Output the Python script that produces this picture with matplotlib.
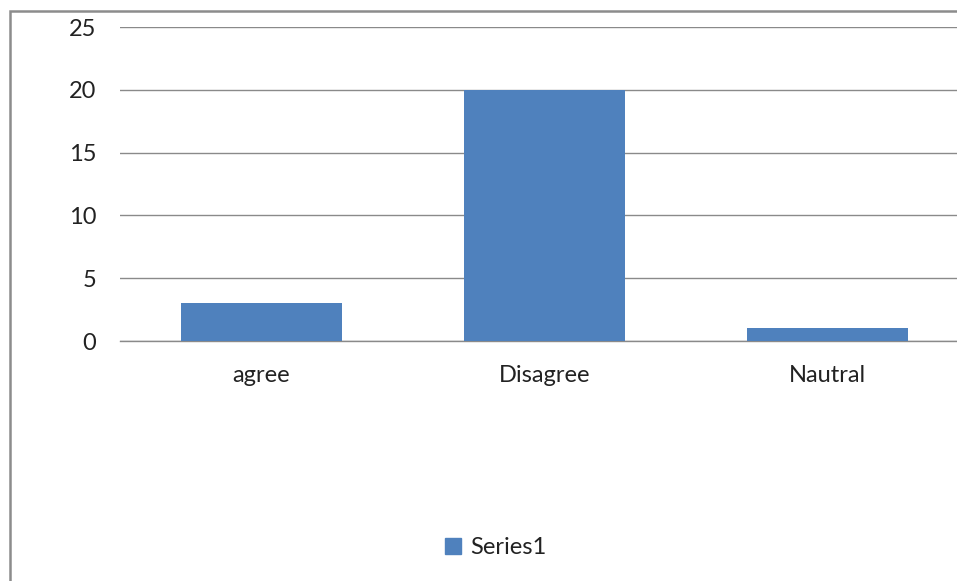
import matplotlib
matplotlib.use("Agg")
import matplotlib.pyplot as plt
from matplotlib.patches import Rectangle, Patch

categories = ["agree", "Disagree", "Nautral"]
values = [3, 20, 1]
series_name = "Series1"
y_ticks = [0, 5, 10, 15, 20, 25]

plt.rcParams["font.family"] = ["Lato", "DejaVu Sans"]

W, H = 957, 581
fig = plt.figure(figsize=(W / 100, H / 100), dpi=100)

# chart area frame (extends past the right and bottom edges)
frame = Rectangle((9.5 / W, -0.05), 1.1, (H - 11) / H + 0.05,
                  transform=fig.transFigure, fill=False,
                  edgecolor="#8c8c8c", linewidth=1.8, zorder=0)
fig.patches.append(frame)

ax = fig.add_axes([120 / W, 240 / H, 849 / W, 314 / H])
x = range(len(categories))
ax.bar(x, values, width=0.57, color="#4F81BD", zorder=3)

ax.set_xlim(-0.5, len(categories) - 0.5)
ax.set_ylim(0, 25)
ax.set_yticks(y_ticks)
ax.set_xticks(list(x))
ax.set_xticklabels(categories)
ax.yaxis.grid(True, color="#8a8a8a", linewidth=1.0, zorder=0)
ax.set_axisbelow(True)
for s in ["top", "right", "left"]:
    ax.spines[s].set_visible(False)
ax.spines["bottom"].set_color("#8a8a8a")
ax.spines["bottom"].set_linewidth(1.0)
ax.tick_params(axis="y", length=0, pad=17, labelsize=17, labelcolor="#222222")
ax.tick_params(axis="x", length=0, pad=17, labelsize=17, labelcolor="#222222")

fig.legend(handles=[Patch(color="#4F81BD", label=series_name)],
           loc="center", bbox_to_anchor=(496 / W, 33 / H), frameon=False,
           fontsize=17, handlelength=0.65, handleheight=0.65, handletextpad=0.4,
           labelcolor="#222222")

fig.savefig("out.png", dpi=100)
